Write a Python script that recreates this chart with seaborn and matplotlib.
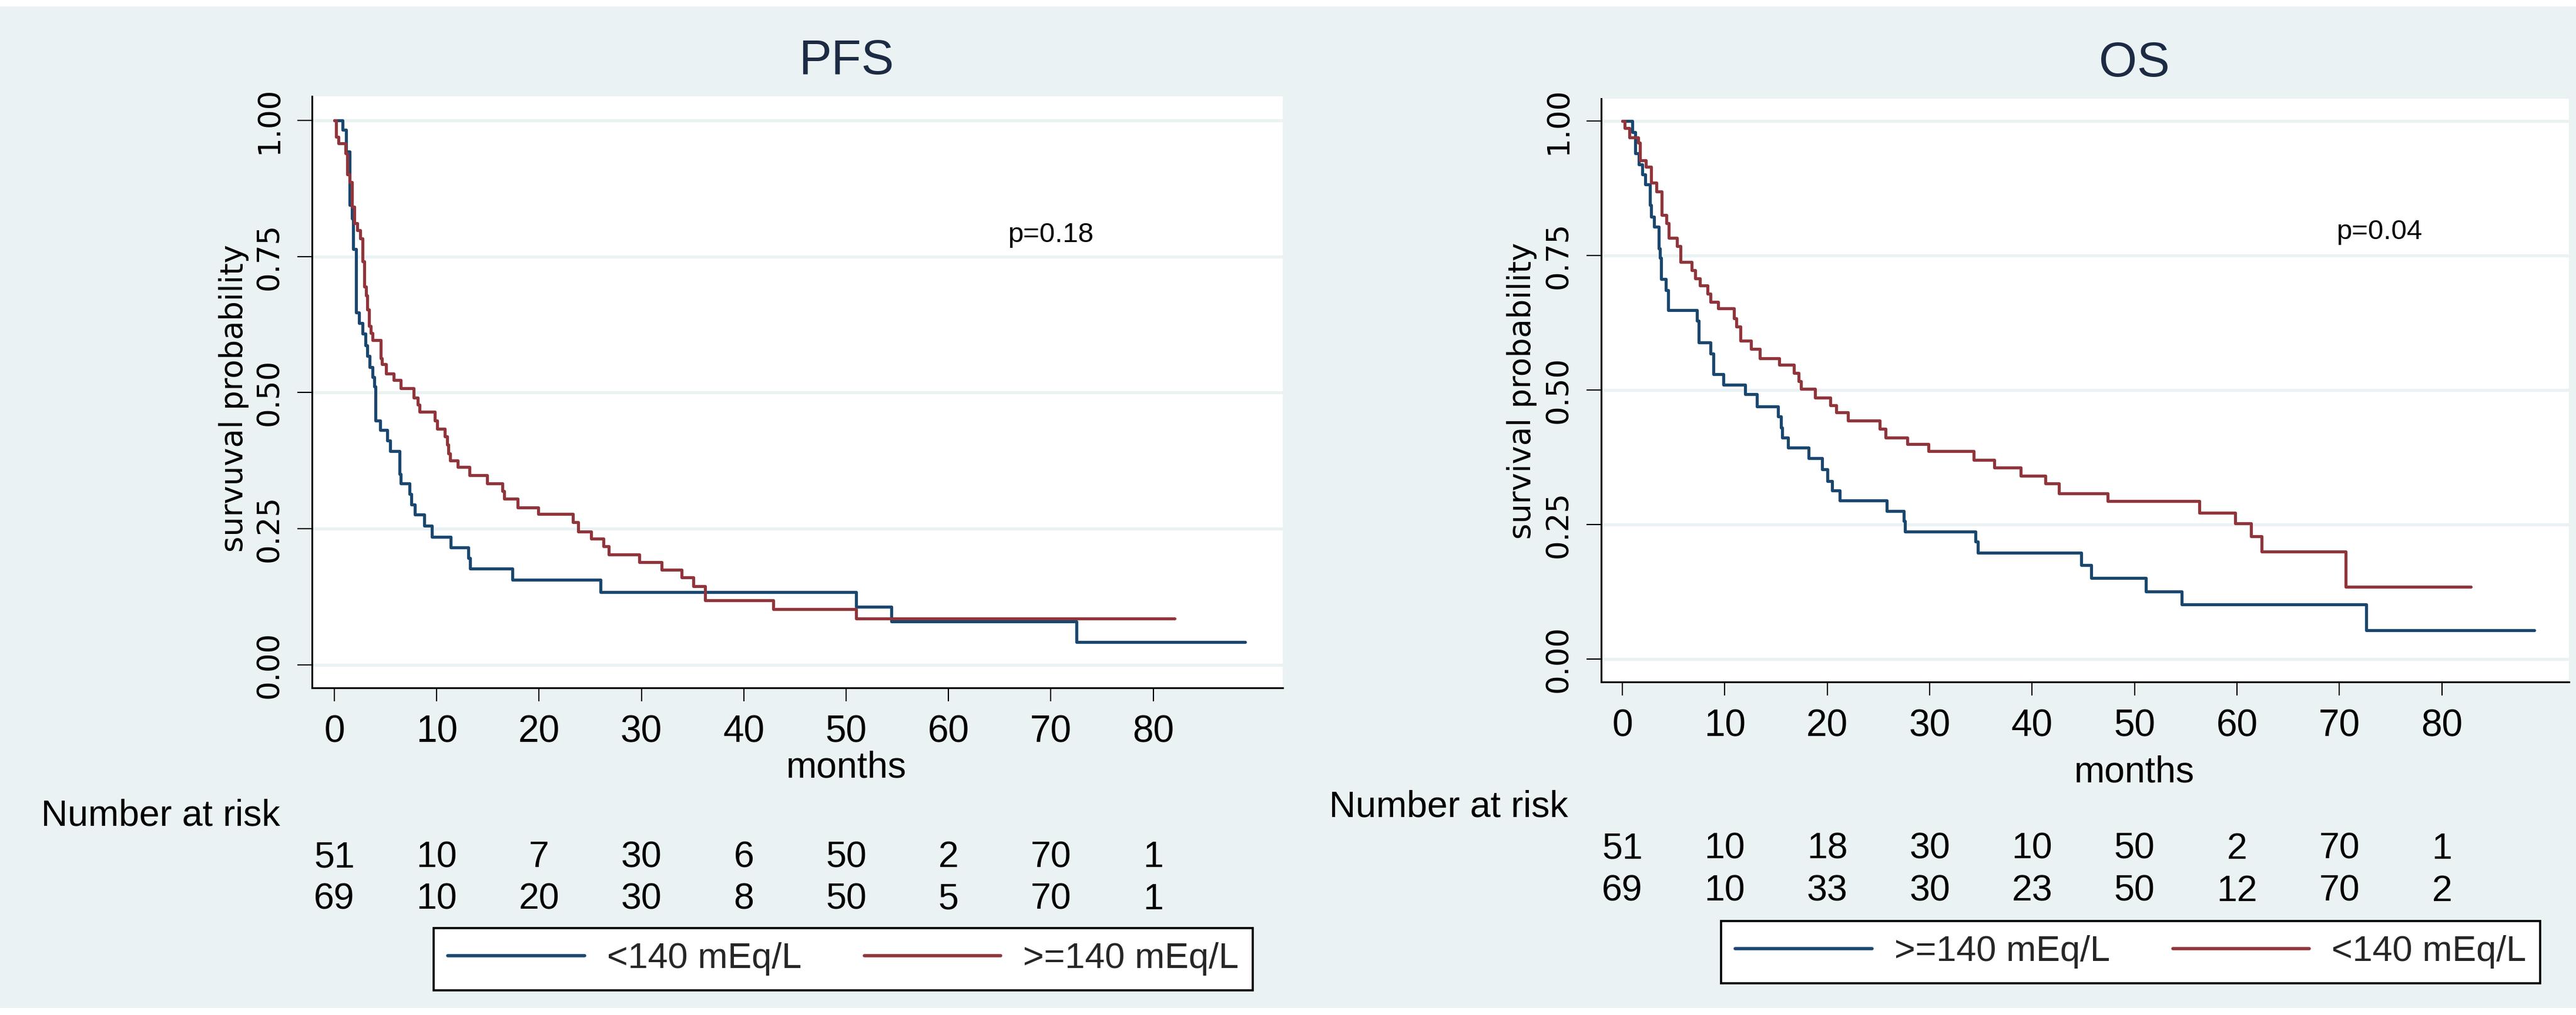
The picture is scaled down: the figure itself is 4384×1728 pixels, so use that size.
import numpy as np
import pandas as pd
import matplotlib
matplotlib.use("Agg")
import matplotlib.pyplot as plt
import matplotlib.transforms as mtransforms
from matplotlib.patches import Rectangle
import seaborn as sns

# ---------------- data ----------------
panel_titles = ["PFS", "OS"]
p_values = ["p=0.18", "p=0.04"]
y_labels = ["survuval probability", "survival probability"]
x_label = "months"
risk_title = "Number at risk"
x_ticks = [0, 10, 20, 30, 40, 50, 60, 70, 80]
y_ticks = [0.0, 0.25, 0.5, 0.75, 1.0]
y_tick_labels = ["0.00", "0.25", "0.50", "0.75", "1.00"]

# PFS, blue group (<140 mEq/L)
pfs_blue_t = [0, 0.83, 1.17, 1.47, 1.70, 1.86, 2.15, 2.42, 2.76, 3.03, 3.21, 3.44,
              3.71, 3.90, 4.01, 4.47, 5.19, 5.48, 6.39, 6.46, 7.37, 7.53, 7.87,
              8.78, 9.53, 11.38, 13.10, 13.25, 17.4, 26.0, 51.0, 54.4, 72.5, 89.0]
pfs_blue_s = [1.0, 0.982, 0.943, 0.844, 0.820, 0.764, 0.647, 0.628, 0.608, 0.587,
              0.567, 0.547, 0.528, 0.511, 0.449, 0.431, 0.412, 0.393, 0.351, 0.333,
              0.314, 0.294, 0.276, 0.256, 0.235, 0.216, 0.196, 0.177, 0.156, 0.134,
              0.107, 0.080, 0.042, 0.042]
# PFS, red group (>=140 mEq/L)
pfs_red_t = [0, 0.15, 0.42, 1.10, 1.29, 1.51, 1.74, 1.97, 2.24, 2.53, 2.76, 2.92,
             3.10, 3.20, 3.38, 3.56, 3.74, 4.51, 4.64, 5.03, 5.78, 6.46, 7.76, 8.14,
             8.32, 9.80, 10.02, 10.77, 11.0, 11.16, 11.32, 12.07, 13.2, 14.95, 16.4,
             16.6, 17.9, 19.9, 23.3, 23.8, 25.1, 26.3, 26.8, 29.8, 32.0, 33.9, 35.1,
             36.2, 42.9, 51.0, 82.1]
pfs_red_s = [1.0, 0.970, 0.958, 0.939, 0.901, 0.887, 0.841, 0.811, 0.798, 0.783,
             0.741, 0.695, 0.678, 0.653, 0.622, 0.609, 0.596, 0.563, 0.552, 0.535,
             0.523, 0.508, 0.491, 0.478, 0.465, 0.449, 0.434, 0.420, 0.405, 0.388,
             0.375, 0.363, 0.348, 0.333, 0.319, 0.305, 0.289, 0.277, 0.262, 0.245,
             0.232, 0.218, 0.203, 0.189, 0.175, 0.161, 0.145, 0.119, 0.103, 0.085,
             0.085]
# OS, blue group
os_blue_t = [0, 0.99, 1.28, 1.62, 1.96, 2.26, 2.71, 2.83, 3.10, 3.55, 3.66, 3.78,
             4.23, 4.50, 7.29, 7.47, 8.61, 8.88, 9.85, 12.0, 13.14, 15.2, 15.5, 15.6,
             16.2, 18.2, 19.5, 20.0, 20.5, 21.2, 25.8, 27.5, 27.6, 34.5, 34.7, 44.8,
             45.8, 51.1, 54.6, 72.6, 89.0]
os_blue_s = [1.0, 0.979, 0.940, 0.919, 0.900, 0.882, 0.844, 0.822, 0.803, 0.763,
             0.745, 0.706, 0.685, 0.648, 0.629, 0.588, 0.567, 0.529, 0.510, 0.492,
             0.469, 0.451, 0.430, 0.411, 0.393, 0.373, 0.352, 0.331, 0.313, 0.295,
             0.275, 0.256, 0.237, 0.218, 0.198, 0.175, 0.151, 0.125, 0.101, 0.053,
             0.053]
# OS, red group
os_red_t = [0, 0.22, 0.67, 1.58, 1.74, 2.30, 2.83, 3.33, 3.85, 4.30, 4.53, 5.32,
            5.66, 6.79, 7.11, 7.57, 8.32, 8.61, 9.33, 10.9, 11.15, 11.55, 12.58,
            13.4, 15.34, 16.77, 17.2, 17.45, 18.8, 20.3, 20.9, 22.0, 25.1, 25.7,
            27.8, 29.9, 34.3, 36.3, 38.9, 41.3, 42.6, 47.4, 56.3, 59.8, 61.4, 62.4,
            70.6, 82.8]
os_red_s = [1.0, 0.986, 0.969, 0.959, 0.926, 0.914, 0.885, 0.869, 0.825, 0.810,
            0.782, 0.767, 0.738, 0.722, 0.707, 0.694, 0.679, 0.663, 0.651, 0.633,
            0.618, 0.591, 0.576, 0.559, 0.547, 0.531, 0.516, 0.502, 0.486, 0.471,
            0.458, 0.443, 0.428, 0.411, 0.399, 0.386, 0.370, 0.356, 0.340, 0.326,
            0.308, 0.293, 0.272, 0.252, 0.228, 0.200, 0.134, 0.134]

pfs_labels = ["<140 mEq/L", ">=140 mEq/L"]   # blue, red
os_labels = [">=140 mEq/L", "<140 mEq/L"]    # blue, red

risk_times = [0, 10, 20, 30, 40, 50, 60, 70, 80]
pfs_risk_row1 = ["51", "10", "7", "30", "6", "50", "2", "70", "1"]
pfs_risk_row2 = ["69", "10", "20", "30", "8", "50", "5", "70", "1"]
os_risk_row1 = ["51", "10", "18", "30", "10", "50", "2", "70", "1"]
os_risk_row2 = ["69", "10", "33", "30", "23", "50", "12", "70", "2"]

# ---------------- styling ----------------
sns.set_theme(style="white")
plt.rcParams["font.family"] = ["Liberation Sans", "DejaVu Sans"]

BG = "#EAF2F3"
NAVY = "#1A476F"
MAROON = "#90353B"
W, H = 4384, 1728
fig = plt.figure(figsize=(W / 100, H / 100), dpi=100, facecolor=BG)

def fx(px):
    return px / W

def fy(py):
    return 1 - py / H

# white strips at top and bottom of the picture
fig.patches.append(Rectangle((0, fy(11)), 1, 11 / H, transform=fig.transFigure,
                             facecolor="white", edgecolor="none", zorder=-5))
fig.patches.append(Rectangle((0, 0), 1, 12 / H, transform=fig.transFigure,
                             facecolor="white", edgecolor="none", zorder=-5))

panels = [
    dict(title=panel_titles[0], p=p_values[0], ylabel=y_labels[0],
         blue=(pfs_blue_t, pfs_blue_s), red=(pfs_red_t, pfs_red_s), labels=pfs_labels,
         rows=(pfs_risk_row1, pfs_risk_row2),
         box=(531, 164, 2183, 1171), xlim=(-2.18, 92.65), ylim=(-0.042, 1.044),
         ptext=(70.0, 0.789), ylab_x=398, ylab_y=678, title_y=104, months_y=1307,
         risk_title=(70, 1389), rows_y=(1460, 1531), legend=(738, 1580)),
    dict(title=panel_titles[1], p=p_values[1], ylabel=y_labels[1],
         blue=(os_blue_t, os_blue_s), red=(os_red_t, os_red_s), labels=os_labels,
         rows=(os_risk_row1, os_risk_row2),
         box=(2725, 168, 4372, 1161), xlim=(-2.06, 92.4), ylim=(-0.0426, 1.041),
         ptext=(73.9, 0.793), ylab_x=2590, ylab_y=665, title_y=108, months_y=1315,
         risk_title=(2262, 1374), rows_y=(1445, 1517), legend=(2929, 1568)),
]

for P in panels:
    x0, y0, x1, y1 = P["box"]
    ax = fig.add_axes([fx(x0), fy(y1), fx(x1) - fx(x0), (y1 - y0) / H])
    ax.set_facecolor("white")

    bt, bs = P["blue"]
    rt, rs = P["red"]
    df = pd.concat([
        pd.DataFrame({"t": bt, "s": bs, "group": P["labels"][0]}),
        pd.DataFrame({"t": rt, "s": rs, "group": P["labels"][1]}),
    ], ignore_index=True)
    sns.lineplot(data=df, x="t", y="s", hue="group", hue_order=P["labels"],
                 palette=[NAVY, MAROON], estimator=None, sort=False,
                 drawstyle="steps-post", linewidth=3.7, legend=False, ax=ax)

    ax.set_xlim(*P["xlim"])
    ax.set_ylim(*P["ylim"])
    ax.set_xticks(x_ticks)
    ax.set_yticks(y_ticks)
    ax.set_yticklabels(y_tick_labels, rotation=90, va="center",
                       fontfamily="DejaVu Sans", fontsize=37)
    ax.tick_params(axis="x", labelsize=46, length=16.5, width=1.5, pad=16,
                   direction="out", colors="black", bottom=True)
    ax.tick_params(axis="y", length=18, width=1.5, pad=16, direction="out",
                   colors="black", left=True)
    ax.yaxis.grid(True, color=BG, linewidth=3.8)
    ax.xaxis.grid(False)
    ax.set_axisbelow(True)
    for side in ["top", "right"]:
        ax.spines[side].set_visible(False)
    for side in ["left", "bottom"]:
        ax.spines[side].set_color("black")
        ax.spines[side].set_linewidth(2.2)
    ax.set_xlabel("")
    ax.set_ylabel("")

    trans = mtransforms.blended_transform_factory(ax.transData, fig.transFigure)
    ax.text(50, fy(P["title_y"]), P["title"], transform=trans, ha="center",
            va="center", fontsize=60, color="#1C2A44")
    ax.text(50, fy(P["months_y"]), x_label, transform=trans, ha="center",
            va="center", fontsize=45, color="black")
    ax.text(P["ptext"][0], P["ptext"][1], P["p"], ha="center", va="center",
            fontsize=34, color="black")
    fig.text(fx(P["ylab_x"]), fy(P["ylab_y"]), P["ylabel"], rotation=90,
             ha="center", va="center", fontsize=38, fontfamily="DejaVu Sans",
             color="black")
    fig.text(fx(P["risk_title"][0]), fy(P["risk_title"][1]), risk_title,
             ha="left", va="center", fontsize=45, color="black")
    for row, ry in zip(P["rows"], P["rows_y"]):
        for t, lab in zip(risk_times, row):
            ax.text(t, fy(ry), lab, transform=trans, ha="center", va="center",
                    fontsize=45, color="black")

    lx0, ly0 = P["legend"]
    handles = ax.get_lines()[:2]
    leg = ax.legend(handles, P["labels"], loc="upper left", ncol=2,
                    bbox_to_anchor=(fx(lx0), fy(ly0)),
                    bbox_transform=fig.transFigure, borderaxespad=0,
                    fontsize=44, frameon=True, fancybox=False, handlelength=3.8,
                    handletextpad=0.62, columnspacing=1.75, borderpad=0.4)
    frame = leg.get_frame()
    frame.set_edgecolor("black")
    frame.set_linewidth(2.6)
    frame.set_facecolor("white")
    frame.set_alpha(1)
    for ln in leg.get_lines():
        ln.set_linewidth(4.0)

fig.savefig("out.png", dpi=100, facecolor=BG)
